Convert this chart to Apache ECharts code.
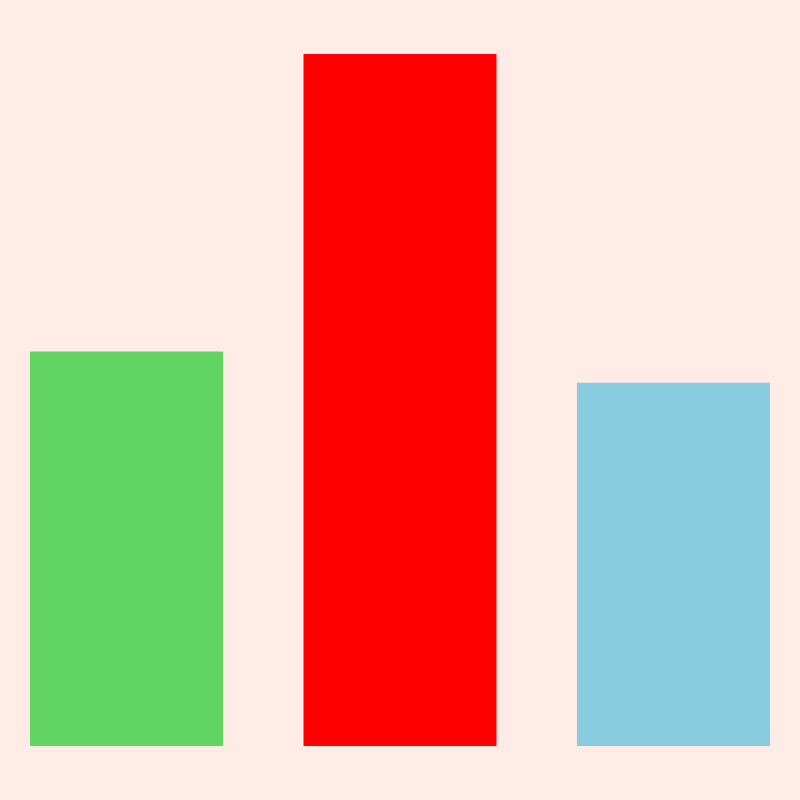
<!DOCTYPE html>
<html>
<head>
<meta charset="utf-8">
<script src="https://cdn.jsdelivr.net/npm/echarts@6/dist/echarts.min.js"></script>
<style>
html,body{margin:0;padding:0;background:#FFECE6;}
#main{width:800px;height:800px;}
</style>
</head>
<body>
<div id="main"></div>
<script>
const categories = ['A', 'B', 'C'];
const values = [57, 100, 52.5];
const colors = ['#62D462', '#FF0000', '#89CCDF'];

const chart = echarts.init(document.getElementById('main'), null, {renderer: 'canvas'});
chart.setOption({
  backgroundColor: '#FFECE6',
  animation: false,
  grid: {left: 126.5, right: 126.5, top: 54, bottom: 54},
  xAxis: {
    type: 'category',
    data: categories,
    boundaryGap: false,
    show: false
  },
  yAxis: {
    type: 'value',
    min: 0,
    max: 100,
    show: false
  },
  series: [{
    type: 'bar',
    barWidth: 193,
    clip: false,
    data: values.map((v, i) => ({value: v, itemStyle: {color: colors[i]}}))
  }]
});
</script>
</body>
</html>
